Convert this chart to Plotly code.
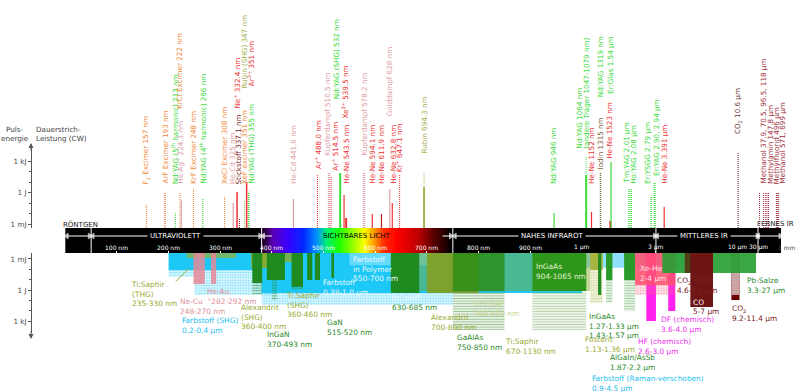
import math
import plotly.graph_objects as go

W, H = 800, 392
FONT = "DejaVu Sans"
FS = 7.2

# ---------------- wavelength scale: four joined axes (nm) ----------------
SCALE_AXES = ["x", "x2", "x3", "x4"]
SCALE_LO = [0, 1000, 10000, 30000]
SCALE_HI = [1000, 10000, 30000, 1000000]
SCALE_TYPE = ["linear", "log", "log", "log"]
SCALE_PX = [(65.3, 582.0), (582.0, 737.0), (737.0, 758.0), (758.0, 781.0)]

BAR_TICK_NM = [100, 200, 300, 400, 500, 600, 700, 800, 900, 1000, 3000, 10000, 30000, 1000000]
BAR_TICK_TEXT = ["100 nm", "200 nm", "300 nm", "400 nm", "500 nm", "600 nm", "700 nm",
                 "800 nm", "900 nm", "1 µm", "3 µm", "10 µm", "30 µm", "1 mm"]
REGION_EDGES_NM = [50, 380, 750, 3000, 30000]

# visible spectrum colour stops
SPEC_NM = [380, 386, 400, 430, 460, 485, 505, 530, 560, 578, 595, 615, 640, 680, 710, 735, 743, 748]
SPEC_COL = ["#1a0026", "#2a0045", "#5a00b4", "#3c00ff", "#0028ff", "#0090ff", "#00f070", "#20ff00",
            "#b0ff00", "#ffff00", "#ffa000", "#ff3000", "#ff0000", "#c00000", "#600000", "#200000",
            "#080000", "#000000"]

# ---------------- fixed lines (upper half): wavelength nm, energy J / power W ----------------
LINE_WL = [157, 193, 213, 222, 224.3, 248, 266, 308, 325, 332.4, 337.1, 347, 351, 351, 355,
           441.6, 488.0, 510.5, 514.5, 532, 539.5, 543.5, 578.2, 594.1, 611.9, 628, 632.8,
           647.1, 694.3, 694.3, 946, 1064, 1064, 1152, 1319, 1315, 1523, 1540, 2010, 2080,
           2790, 2940, 3391, 10600, 37900, 70500, 96500, 118000, 147800, 496000, 571000, 699000]
LINE_TOP = [0.065, 0.9, 0.014, 1.1, 0.2, 2.7, 0.3, 0.37, 0.1, 1.1, 0.0037, 0.2, 0.2, 10, 1.2,
            0.24, 46, 90, 37, 72, 0.57, 0.0037, 90, 0.009, 0.009, 2.2, 0.1,
            46, 72, 3.3, 0.011, 2400, 46, 0.014, 72, 72, 0.002, 800, 2.2, 2.0,
            0.37, 8, 0.042, 7200, 1.1, 1.1, 1.1, 1.1, 1.1, 1.1, 1.1, 1.1]
LINE_KIND = ["P", "P", "P", "P", "C", "P", "P", "P", "C", "C", "P", "P", "P", "C", "P",
             "C", "P", "P", "P", "C", "C", "C", "P", "C", "C", "C", "C",
             "P", "P", "C", "C", "P", "C", "C", "P", "P", "C", "C", "P", "P",
             "P", "P", "C", "P", "P", "P", "P", "P", "P", "P", "P", "P"]

OR, ORL, GR, PK, RD, RDL, DR, MA, OL, IO, CO, ME = ("#f5883a", "#f4a078", "#3ddc3d", "#e0a0a8",
                                                     "#ee3333", "#f07070", "#b82020", "#802828",
                                                     "#a8b050", "#806040", "#703838", "#a03040")
LINE_COLOR = [OR, ORL, GR, OR, PK, OR, GR, OR, PK, RD, MA, OL, OR, RD, GR,
              PK, RD, PK, RDL, GR, RD, RD, PK, RD, DR, PK, RD,
              RD, OL, OL, GR, GR, GR, RD, GR, IO, RD, GR, GR, GR,
              GR, GR, RD, CO, ME, ME, ME, ME, ME, ME, ME, ME]
LINE_WIDTH = [1, 2, 1, 1, 1.2, 1, 1.2, 1, 1.2, 1.5, 1, 1, 1, 1.5, 1.5,
              1.2, 1, 2.5, 1.5, 2, 1.2, 2, 2.5, 1.2, 1.2, 1.2, 1.2,
              1, 1, 2, 1.2, 1, 2, 1.2, 1.5, 1.2, 2, 1.2, 1.5, 1.5,
              1.5, 2, 1.2, 1.2, 1, 1, 1, 1, 1, 1, 1, 1]

# labels of the upper half: text, wavelength it refers to
UP_TEXT = ["F<sub>2</sub> Excimer 157 nm", "ArF Excimer 193 nm", "Nd:YAG (5<sup>th</sup> harmonic) 213 nm",
           "He-Ag<sup>+</sup> 224.3 nm", "KrCl Excimer 222 nm", "KrF Excimer 248 nm",
           "Nd:YAG (4<sup>th</sup> harmonic) 266 nm", "XeCl Excimer 308 nm", "He-Cd 325 nm",
           "Ne<sup>+</sup> 332.4 nm", "Stickstoff 337.1 nm", "Rubin (SHG) 347 nm", "Ar<sup>3+</sup> 351 nm",
           "XeF excimer 351 nm", "Nd:YAG (THG) 355 nm", "He-Cd 441.6 nm", "Ar<sup>+</sup> 488.0 nm",
           "Kupferdampf 510.5 nm", "Ar<sup>+</sup> 514.5 nm", "Nd:YAG (SHG) 532 nm", "Xe<sup>3+</sup> 539.5 nm",
           "He-Ne 543.5 nm", "Kupferdampf 578.2 nm", "He-Ne 594.1 nm", "He-Ne 611.9 nm",
           "Golddampf 628 nm", "He-Ne 632.8 nm", "Kr<sup>+</sup> 647.1 nm", "Rubin 694.3 nm",
           "Nd:YAG 946 nm", "Nd:YAG 1064 nm", "(andere Träger 1047-1079 nm)", "He-Ne 1152 nm",
           "Iodin 1315 nm", "Nd:YAG 1319 nm", "He-Ne 1523 nm", "Er:Glas 1.54 µm", "Tm:YAG 2.01 µm",
           "Ho:YAG 2.08 µm", "Er:YSGG 2.79 µm", "Er:YAG 2.90, 2.94 µm", "He-Ne 3.391 µm",
           "CO<sub>2</sub> 10.6 µm", "Methanol 37.9, 70.5, 96.5, 118 µm", "Methylamin 147.8 µm",
           "Methylfluorid 496 µm", "Methanol 571, 699 µm"]
UP_WL = [157, 193, 213, 224.3, 222, 248, 266, 308, 325, 332.4, 337.1, 347, 351, 351, 355, 441.6, 488,
         510.5, 514.5, 532, 539.5, 543.5, 578.2, 594.1, 611.9, 628, 632.8, 647.1, 694.3, 946, 1064, 1064,
         1152, 1315, 1319, 1523, 1540, 2010, 2080, 2790, 2940, 3391, 10600, 37900, 147800, 496000, 699000]
# layout of those labels: horizontal shift (px) and bottom edge (px from top)
UP_DX = [0, 0, 0, -1, 0, 0, 0, 0, 0, 0, 0, 0, 5, -1.5, 3, 0, 0, -2, 4, -3, 0, 0, 0, 0, 0, 0, 1, -1, 0,
         0, -7, 0, 0, 0, 0, -1, 0, -3, 2, -3, 2, 0, 0, 3.5, 2, 0.5, 4]
UP_BOTTOM = [185, 185, 185, 185, 110, 185, 185, 185, 185, 110, 185, 90, 87, 185, 185, 185, 170, 157, 172,
             100, 120, 185, 157, 185, 185, 117, 185, 173, 155, 185, 150, 150, 185, 170, 98, 160, 95, 185,
             185, 185, 177, 185, 135, 185, 185, 185, 185]
UP_COLOR = [OR, OR, GR, PK, OR, OR, GR, OR, PK, RD, MA, OL, RD, OR, GR, PK, RD, PK, RD, GR, RD, RD, PK,
            RD, RD, PK, RD, RD, OL, GR, GR, GR, RD, IO, GR, RD, GR, GR, GR, GR, GR, RD, CO, ME, ME, ME, ME]

# ---------------- tunable lasers (lower half): nm range, energy J / power W ----------------
LOW_LO = [900, 200, 250, 200, 380, 380, 550, 235, 248, 282, 360, 360, 362, 362, 400, 390, 438, 438,
          468, 483, 515, 670, 630, 700, 750, 750, 904, 904, 1130, 1130, 1270, 1430, 1430, 1870, 1870,
          2600, 3600, 2200, 2200, 9200, 9200, 3300, 4600, 5000]
LOW_HI = [4500, 250, 400, 400, 750, 1000, 700, 330, 270, 292, 460, 400, 381, 381, 410, 425, 460, 460,
          478, 493, 520, 1130, 685, 800, 850, 850, 1065, 1065, 1360, 1360, 1330, 1570, 1570, 2200, 2200,
          3000, 4000, 4000, 4000, 11400, 11400, 27000, 5800, 7000]
LOW_VAL = [0.007, 0.055, 3.0, 0.012, 28, 2.0, 0.004, 0.0008, 0.26, 0.26, 0.002, 0.0074, 3.0, 0.21, 9.4,
           0.108, 1.0, 0.5, 0.108, 0.108, 0.069, 1.25, 1.96, 1.96, 7400, 1.25, 7400, 1.25, 18, 0.0116,
           3.0, 18, 0.108, 109, 0.108, 1000, 109, 3.0, 0.33, 9.4, 3.0, 0.0227, 0.0227, 44]
CY, DG, G2 = "#1ec8f6", "#1f8a1f", "#2a9a2a"
LOW_STYLE = [("#8fe0fa", ""), (CY, "."), (CY, "."), (CY, ""), (CY, "."), (CY, ""),
             ("rgba(150,230,255,0.6)", ""), ("rgba(150,175,50,0.7)", ""),
             ("rgba(230,135,150,0.85)", ""), ("rgba(230,135,150,0.85)", ""),
             ("rgba(140,170,40,0.8)", ""), ("rgba(140,170,40,0.9)", ""),
             (DG, "-"), (DG, ""), (DG, "-"), (DG, ""), (DG, "-"), (DG, ""), (DG, ""), (DG, ""), (DG, ""),
             ("rgba(128,165,30,0.45)", ""), (DG, ""), ("rgba(128,160,40,0.95)", ""),
             ("#3a8a2a", "-"), ("rgba(40,140,20,0.75)", ""), ("#70aa58", "-"), ("#2f961c", ""),
             ("#a8b440", "."), ("#a8b440", ""), (DG, ""), (G2, "-"), (G2, ""), ("#3a9a3a", "-"), (G2, ""),
             ("#ff22ee", ""), ("#ff22ee", ""), ("#ff6080", "."), ("rgba(255,80,110,0.85)", ""),
             ("#6b0000", ""), ("#a87070", ".x"), ("rgba(40,160,50,0.92)", ""),
             ("rgba(90,30,10,0.75)", ""), ("#6e1515", "")]

# labels of the lower half: text, left edge px, centre of first line px, colour
OLT, PKT, CYT, GRT, WHT, MGT, DRT = "#9aab34", "#e0909a", "#1ec0f0", "#2a8a2a", "#e6f8ff", "#ee30ee", "#7a2020"
LOW_LABELS = [
    ("Ti:Saphir<br>(THG)<br>235-330 nm", 130, 284, OLT),
    ("Ne-Cu<br>248-270 nm", 179, 301, PKT),
    ("He-Au<br><sup>+</sup>282-292 nm", 206, 291, PKT),
    ("Farbstoff (SHG)<br>0.2-0.4 µm", 181, 320, CYT),
    ("Alexandrit<br>(SHG)<br>360-400 nm", 240, 307, OLT),
    ("InGaN<br>370-493 nm", 266, 334, GRT),
    ("Ti:Saphir<br>(SHG)<br>360-460 nm", 285, 295, OLT),
    ("GaN<br>515-520 nm", 326, 322, GRT),
    ("Farbstoff<br>0.38-1.0 µm", 322, 282, WHT),
    ("Farbstoff<br>in Polymer<br>550-700 nm", 352, 259, WHT),
    ("<span style='color:#e6f8ff'>InGaAlP</span><br>630-685 nm", 391, 297, GRT),
    ("Alexandrit<br>700-800 nm", 430, 317, OLT),
    ("GaAlAs<br>750-850 nm", 456, 337, GRT),
    ("Cr:LiSAF<br>780-850 nm", 473, 303, "#c8d890"),
    ("Ti:Saphir<br>670-1130 nm", 504, 341, OLT),
    ("InGaAs<br>904-1065 nm", 535, 266, "#e0f0d0"),
    ("InGaAs<br>1.27-1.33 µm<br>1.43-1.57 µm", 588, 316, GRT),
    ("Fosterit<br>1.13-1.36 µm", 584, 339, OLT),
    ("HF (chemisch)<br>2.6-3.0 µm", 637, 341, MGT),
    ("AlGaIn/AsSb<br>1.87-2.2 µm", 609, 357, GRT),
    ("Farbstoff (Raman-verschoben)<br>0.9-4.5 µm", 591, 378, CYT),
    ("DF (chemisch)<br>3.6-4.0 µm", 660, 319, MGT),
    ("Xe-He<br>2-4 µm", 639, 268, "#ffe0e8"),
    ("CO<sub>2</sub> (SHG<br>4.6-5.8 µm", 676, 280, DRT),
    ("CO", 692, 302, "#ffffff"),
    ("5-7 µm", 692, 311, DRT),
    ("CO<sub>2</sub><br>9.2-11.4 µm", 731, 308, DRT),
    ("Pb-Salze<br>3.3-27 µm", 746, 280, GRT),
]

TOP_RANGE = [-3.38, 4.24]
BOT_RANGE = [4.16, -3.58]
AXC = "#555555"


def pieces(lo, hi):
    out = []
    for ax, a, b in zip(SCALE_AXES, SCALE_LO, SCALE_HI):
        s, e = max(lo, a), min(hi, b)
        if s < e:
            out.append((ax, s, e))
    return out


def axis_of(w):
    for ax, a, b in zip(SCALE_AXES, SCALE_LO, SCALE_HI):
        if a <= w <= b:
            return ax
    return SCALE_AXES[-1]


def ann_x(ax, w):
    return math.log10(w) if SCALE_TYPE[SCALE_AXES.index(ax)] == "log" else w


fig = go.Figure()

# black spectrum bar
for ax in SCALE_AXES:
    fig.add_shape(type="rect", xref=f"{ax} domain", yref="y2 domain", x0=0, x1=1, y0=0, y1=1,
                  fillcolor="black", line_width=0, layer="below")
fig.add_shape(type="line", xref="x4 domain", yref="y2 domain", x0=0, x1=0, y0=0, y1=1,
              line=dict(color="white", width=1))

# rainbow
n = len(SPEC_NM)
fig.add_trace(go.Heatmap(x=SPEC_NM, y=[0, 1], z=[list(range(n)), list(range(n))], zmin=0, zmax=n - 1,
                         colorscale=[[i / (n - 1), c] for i, c in enumerate(SPEC_COL)], zsmooth="best",
                         showscale=False, xaxis="x", yaxis="y2", hoverinfo="skip"))

# region dividers
for wl in REGION_EDGES_NM[:-1]:
    fig.add_trace(go.Scatter(x=[wl, wl], y=[0, 1], xaxis=axis_of(wl), yaxis="y2", mode="lines",
                             line=dict(color="white", width=1), hoverinfo="skip"))

# region arrows
ARROWS = [(3, 47), (53, 377), (383, 400), (730, 746), (754, 2950), (3050, 29000), (31500, 900000)]
for lo, hi in ARROWS:
    for ax, a, b in pieces(lo, hi):
        sz = [5 if a == lo and lo != 730 else 0, 5 if b == hi and hi != 400 else 0]
        fig.add_trace(go.Scatter(x=[a, b], y=[0.68, 0.68], xaxis=ax, yaxis="y2", mode="lines+markers",
                                 line=dict(color="white", width=1),
                                 marker=dict(symbol=["triangle-left", "triangle-right"], size=sz, color="white"),
                                 cliponaxis=False, hoverinfo="skip"))

# upper lines
UP_BASE = 10 ** TOP_RANGE[0]
for wl, top, kind, col, lw in zip(LINE_WL, LINE_TOP, LINE_KIND, LINE_COLOR, LINE_WIDTH):
    fig.add_trace(go.Scatter(x=[wl, wl], y=[UP_BASE, top], xaxis=axis_of(wl), yaxis="y", mode="lines",
                             line=dict(color=col, width=lw, dash="1px,1px" if kind == "P" else "solid"),
                             hoverinfo="skip"))

# lower rectangles
LOW_BASE = 10 ** -3.7
for lo, hi, val, (col, pat) in zip(LOW_LO, LOW_HI, LOW_VAL, LOW_STYLE):
    for ax, a, b in pieces(lo, hi):
        kw = dict(fillcolor=col)
        if pat:
            bg = "#d8b8b8" if pat == ".x" else "rgba(0,0,0,0)"
            shape = "." if pat.startswith(".") else pat
            kw = dict(fillcolor="rgba(0,0,0,0)",
                      fillpattern=dict(shape=shape, fgcolor=col, bgcolor=bg,
                                       size=2.6, solidity=0.5 if shape == "-" else 0.55))
        fig.add_trace(go.Scatter(x=[a, b, b, a, a], y=[LOW_BASE, LOW_BASE, val, val, LOW_BASE],
                                 xaxis=ax, yaxis="y3", mode="none", fill="toself", hoverinfo="skip", **kw))

ann = []
f = lambda c, s=FS: dict(family=FONT, size=s, color=c)

# upper labels (rotated)
for txt, wl, dx, bot, col in zip(UP_TEXT, UP_WL, UP_DX, UP_BOTTOM, UP_COLOR):
    ax = axis_of(wl)
    ann.append(dict(text=txt, x=ann_x(ax, wl), xref=ax, y=1 - bot / H, yref="paper", xanchor="center",
                    yanchor="bottom", textangle=-90, xshift=dx, showarrow=False, font=f(col), borderpad=0))

# lower labels
for txt, xl, yc, col in LOW_LABELS:
    ann.append(dict(text=txt, x=xl / W, xref="paper", y=1 - (yc - 4.8) / H, yref="paper", xanchor="left",
                    yanchor="top", align="left", showarrow=False, font=f(col, 7.4), borderpad=0))

# bar tick labels
for wl, txt in zip(BAR_TICK_NM, BAR_TICK_TEXT):
    ax = axis_of(wl)
    ann.append(dict(text=txt, x=ann_x(ax, wl), xref=ax, y=0.24, yref="y2", showarrow=False,
                    xanchor="center", yanchor="middle",
                    xshift=6 if wl == 1000000 else 0, font=f("white" if wl < 1000000 else "#444", 6)))

# region names
for txt, wl, col, bg in [("ULTRAVIOLETT", 214, "white", "black"), ("SICHTBARES LICHT", 565, "black", None),
                         ("NAHES INFRAROT", 942, "white", "black"), ("MITTLERES IR", 6100, "white", "black")]:
    ax = axis_of(wl)
    d = dict(text=txt, x=ann_x(ax, wl), xref=ax, y=0.68, yref="y2", showarrow=False, font=f(col, 7),
             xanchor="center", yanchor="middle", borderpad=2)
    if bg:
        d["bgcolor"] = bg
    ann.append(d)
for txt, xc in [("RÖNTGEN", 80), ("FERNES IR", 775)]:
    ann.append(dict(text=txt, x=xc / W, xref="paper", y=1 - 224 / H, yref="paper", showarrow=False,
                    xanchor="center", yanchor="middle", font=f("#222", 7)))

# axis titles and arrowheads
ann.append(dict(text="Puls-<br>energie", x=15 / W, xref="paper", y=1 - 123.5 / H, yref="paper",
                xanchor="center", yanchor="top", showarrow=False, font=f("#444"), borderpad=0))
ann.append(dict(text="Dauerstrich-<br>Leistung (CW)", x=35 / W, xref="paper", y=1 - 123.5 / H, yref="paper",
                xanchor="left", yanchor="top", align="left", showarrow=False, font=f("#444"), borderpad=0))
ann.append(dict(text="", x=31 / W, xref="paper", y=1 - 143 / H, yref="paper", ax=0, ay=9,
                showarrow=True, arrowhead=2, arrowsize=1, arrowwidth=1, arrowcolor=AXC))
ann.append(dict(text="", x=31 / W, xref="paper", y=1 - 339 / H, yref="paper", ax=0, ay=-9,
                showarrow=True, arrowhead=2, arrowsize=1, arrowwidth=1, arrowcolor=AXC))
# leader line of Ti:Saphir (THG)
ann.append(dict(text="", x=240, xref="x", y=math.log10(0.0074), yref="y3", ax=-15, ay=15,
                showarrow=True, arrowhead=0, arrowwidth=1, arrowcolor=OLT))

layout = dict(width=W, height=H, margin=dict(l=0, r=0, t=0, b=0, autoexpand=False), paper_bgcolor="white",
              plot_bgcolor="rgba(0,0,0,0)", showlegend=False, annotations=ann)

for i, ax in enumerate(SCALE_AXES):
    a, b = SCALE_LO[i], SCALE_HI[i]
    rng = [a, b] if SCALE_TYPE[i] == "linear" else [math.log10(a), math.log10(b)]
    tv = [t for t in BAR_TICK_NM if axis_of(t) == ax]
    key = "xaxis" if ax == "x" else "xaxis" + ax[1:]
    layout[key] = dict(domain=[SCALE_PX[i][0] / W, SCALE_PX[i][1] / W], type=SCALE_TYPE[i], range=rng,
                       anchor="y2", showgrid=False, zeroline=False, showline=False, showticklabels=False,
                       ticks="inside", ticklen=2.5, tickcolor="white", tickvals=tv, fixedrange=True,
                       automargin=False)

tickfont = dict(family=FONT, size=FS, color="#4d4d4d")
dec = [1e-3, 1, 1e3]
minor_dec = [1e-2, 1e-1, 10, 100]


def yax(rng, dom, txt, inside=False, overlay=None):
    d = dict(type="log", range=rng, anchor="free", position=31 / W, showgrid=False, zeroline=False,
             tickvals=dec, ticktext=txt, tickfont=tickfont, ticklen=3, tickcolor=AXC,
             ticks="inside" if inside else "outside", fixedrange=True, automargin=False,
             minor=dict(tickvals=minor_dec, ticks="inside" if inside else "outside", ticklen=2, tickcolor=AXC))
    if overlay:
        d.update(overlaying=overlay, side="left", showline=False, ticklabelposition="inside")
    else:
        d.update(domain=dom, showline=True, linecolor=AXC, linewidth=1)
    return d


layout["yaxis"] = yax(TOP_RANGE, [1 - 228 / H, 1 - 148 / H], ["1 mJ", "1 J", "1 kJ"])
layout["yaxis4"] = yax(TOP_RANGE, None, ["1 mW", "1 W", "1 kW"], inside=True, overlay="y")
layout["yaxis2"] = dict(domain=[1 - 253 / H, 1 - 228 / H], range=[0, 1], visible=False, anchor="x",
                        fixedrange=True, automargin=False)
layout["yaxis3"] = yax(BOT_RANGE, [1 - 333 / H, 1 - 253 / H], ["1 mJ", "1 J", "1 kJ"])
layout["yaxis5"] = yax(BOT_RANGE, None, ["1 mW", "1 W", "1 kW"], inside=True, overlay="y3")

fig.update_layout(**layout)
fig.write_html("out.html", config={"displayModeBar": False},
               post_script="document.body.style.margin='0';document.body.style.overflow='hidden';")
